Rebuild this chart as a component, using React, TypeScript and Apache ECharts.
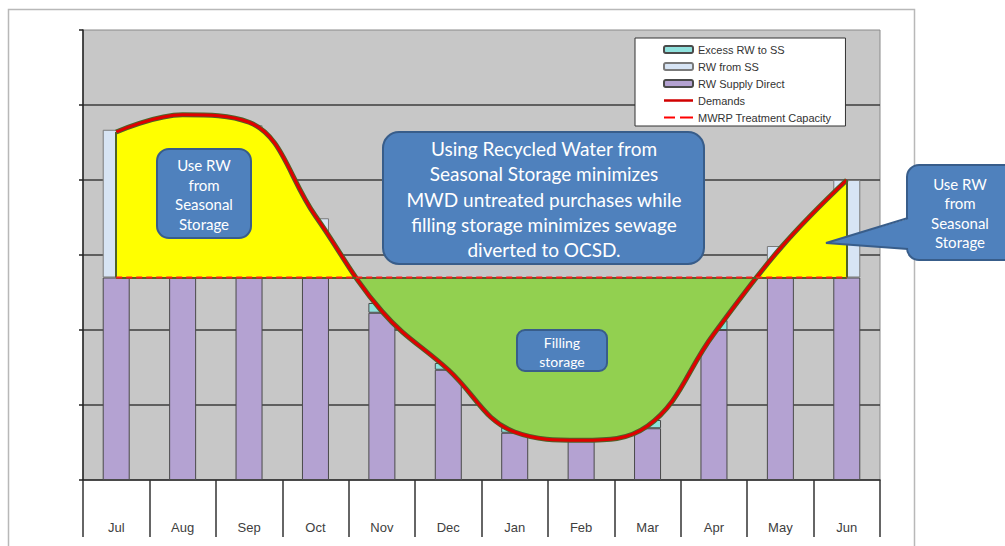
import React, { useEffect, useRef } from 'react';
import * as echarts from 'echarts';

const months = ['Jul', 'Aug', 'Sep', 'Oct', 'Nov', 'Dec', 'Jan', 'Feb', 'Mar', 'Apr', 'May', 'Jun'];
const rwSupplyDirect = [2.7, 2.7, 2.7, 2.7, 2.23, 1.47, 0.63, 0.52, 0.69, 2.0, 2.7, 2.7];
const excessRwToSS = [null, null, null, null, 0.13, 0.09, 0.07, 0.06, 0.11, 0.13, null, null];
const rwFromSS = [1.97, 2.15, 2.03, 0.79, null, null, null, null, null, null, 0.42, 1.3];
const demands = [4.64, 4.87, 4.77, 3.52, 2.25, 1.47, 0.64, 0.53, 0.72, 1.95, 3.09, 4.0];
const treatmentCapacity = [2.7, 2.7, 2.7, 2.7, 2.7, 2.7, 2.7, 2.7, 2.7, 2.7, 2.7, 2.7];
const capacityLevel = 2.7;

const BLUE = '#4f81bd';
const BLUE_EDGE = '#385d8a';
const OLIVE = '#4f6228';
const CALLOUT_FONT = 'Lato, "Noto Sans", sans-serif';

// legend icons (tiny corner specks keep the 29x7 bounding box)
const CORNERS = 'M0,0 L0.05,0 L0,0.05 Z M29,7 L28.95,7 L29,6.95 Z ';
const SOLID_ICON = 'path://' + CORNERS + 'M0,2.2 L29,2.2 L29,4.8 L0,4.8 Z';
const DASH_ICON = 'path://' + CORNERS + 'M0,2.5 L11,2.5 L11,4.5 L0,4.5 Z M16,2.5 L29,2.5 L29,4.5 L16,4.5 Z';

function calloutText(x: number, y: number, text: string, size: number, lh: number) {
  return {
    type: 'text',
    z: 102,
    x,
    y,
    style: {
      text,
      fill: '#ffffff',
      font: `${size}px ${CALLOUT_FONT}`,
      textAlign: 'center',
      textVerticalAlign: 'middle',
      lineHeight: lh,
    },
  };
}

export default function App() {
  const ref = useRef<HTMLDivElement>(null);

  useEffect(() => {
    if (!ref.current) return;
    const chart = echarts.init(ref.current, undefined, { renderer: 'svg' });
    const first = months[0];
    const last = months[months.length - 1];
    const option: any = {
      animation: false,
      backgroundColor: '#ffffff',
      grid: {
        left: 83,
        top: 30,
        width: 797,
        height: 450,
        show: true,
        backgroundColor: '#c7c7c7',
        borderColor: '#8a8a8a',
        borderWidth: 1,
      },
      legend: {
        orient: 'vertical',
        left: 635,
        top: 38,
        itemWidth: 29,
        itemHeight: 7,
        itemGap: 6,
        padding: [6, 14, 3, 28],
        backgroundColor: '#ffffff',
        borderColor: '#333333',
        borderWidth: 1,
        borderRadius: 0,
        textStyle: { fontFamily: '"Liberation Sans", Arial, sans-serif', fontSize: 11, color: '#333333' },
        data: [
          { name: 'Excess RW to SS', icon: 'roundRect' },
          { name: 'RW from SS', icon: 'roundRect' },
          { name: 'RW Supply Direct', icon: 'roundRect' },
          { name: 'Demands', icon: SOLID_ICON, itemStyle: { color: '#d00000', borderWidth: 0 } },
          { name: 'MWRP Treatment Capacity', icon: DASH_ICON, itemStyle: { color: '#ff0000', borderWidth: 0 } },
        ],
        z: 20,
      },
      visualMap: {
        type: 'piecewise',
        show: false,
        seriesIndex: 3,
        dimension: 1,
        pieces: [
          { min: -100, max: capacityLevel, color: '#92d050' },
          { min: capacityLevel, max: 100, color: '#ffff00' },
        ],
      },
      xAxis: {
        type: 'category',
        data: months,
        boundaryGap: true,
        axisLine: { show: true, lineStyle: { color: '#222222', width: 1.5 } },
        axisTick: { show: true, interval: 0, length: 57, lineStyle: { color: '#333333', width: 1.5 } },
        axisLabel: {
          interval: 0,
          margin: 41,
          fontSize: 13,
          color: '#404040',
          fontFamily: '"Liberation Sans", Arial, sans-serif',
        },
        splitLine: { show: false },
      },
      yAxis: {
        type: 'value',
        min: 0,
        max: 6,
        interval: 1,
        axisLine: { show: true, lineStyle: { color: '#222222', width: 1.5 } },
        axisTick: { show: true, length: 4, lineStyle: { color: '#222222', width: 1.5 } },
        axisLabel: { show: false },
        splitLine: {
          show: true,
          showMaxLine: false,
          showMinLine: false,
          lineStyle: { color: '#3c3c3c', width: 1.5 },
        },
      },
      series: [
        {
          name: 'RW Supply Direct',
          type: 'bar',
          stack: 'rw',
          barWidth: 27,
          data: rwSupplyDirect,
          itemStyle: { color: '#b4a2d2', borderColor: '#4a4a4a', borderWidth: 1 },
          z: 2,
        },
        {
          name: 'Excess RW to SS',
          type: 'bar',
          stack: 'rw',
          barWidth: 27,
          data: excessRwToSS,
          itemStyle: { color: '#8fe1dd', borderColor: '#4a4a4a', borderWidth: 1 },
          z: 2,
        },
        {
          name: 'RW from SS',
          type: 'bar',
          stack: 'rw',
          barWidth: 27,
          data: rwFromSS,
          itemStyle: { color: '#d7e4f4', borderColor: '#7a7a7a', borderWidth: 1 },
          z: 2,
        },
        {
          name: 'storageFill',
          type: 'line',
          data: demands,
          smooth: 0.4,
          symbol: 'none',
          lineStyle: { color: OLIVE, width: 5 },
          areaStyle: { origin: capacityLevel, opacity: 1 },
          markLine: {
            silent: true,
            symbol: 'none',
            label: { show: false },
            lineStyle: { color: OLIVE, width: 2, type: 'solid' },
            data: [
              [{ coord: [first, capacityLevel] }, { coord: [first, demands[0]] }],
              [{ coord: [last, capacityLevel] }, { coord: [last, demands[demands.length - 1]] }],
              [{ coord: [first, capacityLevel] }, { coord: [last, capacityLevel] }],
            ],
          },
          z: 3,
        },
        {
          name: 'Demands',
          type: 'line',
          data: demands,
          smooth: 0.4,
          symbol: 'none',
          itemStyle: { color: '#d00000' },
          lineStyle: { color: '#e00000', width: 3 },
          z: 4,
        },
        {
          name: 'MWRP Treatment Capacity',
          type: 'line',
          data: treatmentCapacity,
          symbol: 'none',
          itemStyle: { color: '#ff0000' },
          lineStyle: { color: '#ff1a1a', width: 2, type: [6, 4] },
          z: 6,
        },
      ],
      graphic: [
        {
          type: 'rect',
          z: 0,
          silent: true,
          shape: { x: 8.5, y: 9.5, width: 906, height: 545 },
          style: { fill: 'none', stroke: '#b8b8b8', lineWidth: 1.5 },
        },
        // Left callout
        {
          type: 'rect',
          z: 101,
          shape: { x: 157, y: 149, width: 94, height: 89, r: 12 },
          style: { fill: BLUE, stroke: BLUE_EDGE, lineWidth: 2 },
        },
        calloutText(204, 194.5, 'Use RW\nfrom\nSeasonal\nStorage', 15, 19.4),
        // Central callout
        {
          type: 'rect',
          z: 101,
          shape: { x: 383, y: 132, width: 321, height: 132, r: 16 },
          style: { fill: BLUE, stroke: BLUE_EDGE, lineWidth: 2 },
        },
        calloutText(
          544,
          199,
          'Using Recycled Water from\nSeasonal Storage minimizes\nMWD untreated purchases while\nfilling storage minimizes sewage\ndiverted to OCSD.',
          19,
          25.2
        ),
        // Filling storage
        {
          type: 'rect',
          z: 101,
          shape: { x: 517, y: 330, width: 90, height: 41, r: 8 },
          style: { fill: BLUE, stroke: BLUE_EDGE, lineWidth: 2 },
        },
        calloutText(562, 351.5, 'Filling\nstorage', 14, 19),
        // Right callout with pointer
        {
          type: 'rect',
          z: 101,
          shape: { x: 907, y: 165, width: 110, height: 95, r: 12 },
          style: { fill: BLUE, stroke: BLUE_EDGE, lineWidth: 2 },
        },
        {
          type: 'polygon',
          z: 101,
          shape: { points: [[826, 243], [911, 218], [911, 249]] },
          style: { fill: BLUE },
        },
        {
          type: 'polyline',
          z: 101,
          shape: { points: [[908, 218], [826, 243], [908, 249]] },
          style: { fill: 'none', stroke: BLUE_EDGE, lineWidth: 2 },
        },
        calloutText(960, 213, 'Use RW\nfrom\nSeasonal\nStorage', 15, 19.4),
      ],
    };
    chart.setOption(option);
    return () => {
      chart.dispose();
    };
  }, []);

  return (
    <div
      ref={ref}
      style={{ position: 'absolute', left: 0, top: 0, width: 1005, height: 546 }}
    />
  );
}
